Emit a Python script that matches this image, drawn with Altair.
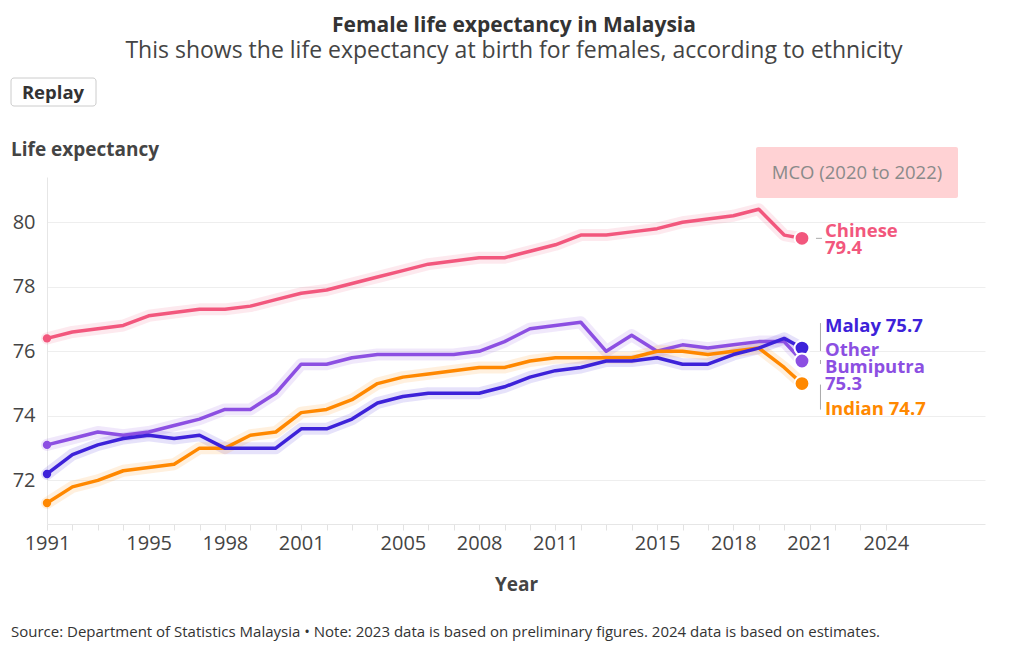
import altair as alt
import pandas as pd

# ---------------- data ----------------
years = list(range(1991, 2021))
end_year = 2020.7  # position of the animated end dots

series = ["Chinese", "Malay", "Other Bumiputra", "Indian"]
colors = ["#F2577D", "#3D22D9", "#8C4FE2", "#FF8800"]

chinese = [76.4, 76.6, 76.7, 76.8, 77.1, 77.2, 77.3, 77.3, 77.4, 77.6,
           77.8, 77.9, 78.1, 78.3, 78.5, 78.7, 78.8, 78.9, 78.9, 79.1,
           79.3, 79.6, 79.6, 79.7, 79.8, 80.0, 80.1, 80.2, 80.4, 79.6]
malay = [72.2, 72.8, 73.1, 73.3, 73.4, 73.3, 73.4, 73.0, 73.0, 73.0,
         73.6, 73.6, 73.9, 74.4, 74.6, 74.7, 74.7, 74.7, 74.9, 75.2,
         75.4, 75.5, 75.7, 75.7, 75.8, 75.6, 75.6, 75.9, 76.1, 76.4]
other_bumiputra = [73.1, 73.3, 73.5, 73.4, 73.5, 73.7, 73.9, 74.2, 74.2, 74.7,
                   75.6, 75.6, 75.8, 75.9, 75.9, 75.9, 75.9, 76.0, 76.3, 76.7,
                   76.8, 76.9, 76.0, 76.5, 76.0, 76.2, 76.1, 76.2, 76.3, 76.3]
indian = [71.3, 71.8, 72.0, 72.3, 72.4, 72.5, 73.0, 73.0, 73.4, 73.5,
          74.1, 74.2, 74.5, 75.0, 75.2, 75.3, 75.4, 75.5, 75.5, 75.7,
          75.8, 75.8, 75.8, 75.8, 76.0, 76.0, 75.9, 76.0, 76.1, 75.5]
end_values = [79.5, 76.1, 75.7, 75.0]

label_lines = [["Chinese", "79.4"], ["Malay 75.7"], ["Other", "Bumiputra", "75.3"], ["Indian 74.7"]]

x_label_years = [1991, 1995, 1998, 2001, 2005, 2008, 2011, 2015, 2018, 2021, 2024]
x_tick_years = list(range(1991, 2025))
y_ticks = [72, 74, 76, 78, 80]

title_text = "Female life expectancy in Malaysia"
subtitle_text = "This shows the life expectancy at birth for females, according to ethnicity"
source_text = ("Source: Department of Statistics Malaysia \u2022 Note: 2023 data is based on "
               "preliminary figures. 2024 data is based on estimates.")

# ---------------- tables ----------------
all_values = [chinese, malay, other_bumiputra, indian]
rows = []
for s, vals, ev in zip(series, all_values, end_values):
    for yr, v in zip(years, vals):
        rows.append({"series": s, "year": yr, "value": v})
    rows.append({"series": s, "year": end_year, "value": ev})
df = pd.DataFrame(rows)
start_df = df[df["year"] == years[0]]
end_df = pd.DataFrame({"series": series, "year": [end_year] * 4, "value": end_values})

FONT = "Open Sans"
x_scale = alt.Scale(domain=[1991, 2027.9], nice=False, zero=False)
y_scale = alt.Scale(domain=[70.65, 81.4], nice=False, zero=False)
color = alt.Color("series:N", scale=alt.Scale(domain=series, range=colors), legend=None)

expr_list = ",".join(str(v) for v in x_label_years)
x_axis = alt.Axis(values=x_tick_years, format="d",
                  labelExpr=f"indexof([{expr_list}], datum.value) >= 0 ? datum.label : ''",
                  grid=False, ticks=True, tickSize=6, tickColor="#e2e2e2",
                  domainColor="#e6e6e6", labelFontSize=20, labelColor="#444444",
                  labelFont=FONT, labelPadding=3, labelFlush=False, labelOverlap=False,
                  labelBound=False, tickMinStep=1,
                  title="Year", titleFontSize=19, titleFontWeight="bold",
                  titleColor="#444444", titleFont=FONT, titlePadding=22)
y_axis = alt.Axis(values=y_ticks, grid=True, gridColor="#eeeeee", ticks=False,
                  domainColor="#e6e6e6", labelFontSize=20, labelColor="#444444",
                  labelFont=FONT, labelPadding=12, labelOverlap=False, title=None)

X = alt.X("year:Q", scale=x_scale, axis=x_axis)
Y = alt.Y("value:Q", scale=y_scale, axis=y_axis)

layers = []
layers.append(alt.Chart(df).mark_line(strokeWidth=12, opacity=0.13, strokeCap="round",
                                      strokeJoin="round").encode(x=X, y=Y, color=color, detail="series:N"))
for s in ["Chinese", "Other Bumiputra", "Indian", "Malay"]:
    layers.append(
        alt.Chart(df[df["series"] == s]).mark_line(strokeWidth=3.5, strokeJoin="round").encode(
            x=X, y=Y, color=color))

layers.append(alt.Chart(start_df).mark_circle(size=70, opacity=1).encode(x=X, y=Y, color=color))

# leader lines (offsets are layout, relative to the end dot)
leader_specs = [
    dict(xOffset=14, x2Offset=20, yOffset=0, y2Offset=0),
    dict(xOffset=18.5, x2Offset=18.5, yOffset=3, y2Offset=-25),
    dict(xOffset=18.5, x2Offset=18.5, yOffset=-1, y2Offset=3),
    dict(xOffset=18.5, x2Offset=18.5, yOffset=1, y2Offset=26),
]
for i, s in enumerate(series):
    sub = end_df[end_df["series"] == s]
    layers.append(alt.Chart(sub).mark_rule(color="#aaaaaa", strokeWidth=1, **leader_specs[i]).encode(
        x=X, x2="year:Q", y=Y, y2="value:Q"))

for s in series:
    layers.append(alt.Chart(end_df[end_df["series"] == s]).mark_circle(
        size=220, opacity=1, stroke="white", strokeWidth=2).encode(x=X, y=Y, color=color))

label_dy = [-7, -22, -11, 25]
for i, s in enumerate(series):
    sub = end_df[end_df["series"] == s].copy()
    sub["label"] = "\n".join(label_lines[i])
    layers.append(alt.Chart(sub).mark_text(
        align="left", baseline="middle", dx=23, dy=label_dy[i], font=FONT, fontWeight="bold",
        fontSize=18.5, lineHeight=17, lineBreak="\n").encode(
        x=X, y=Y, text="label:N", color=color))

# ---------------- annotations (pixel positions relative to plot origin) ----------------
def text_layer(txt, x, y, size, weight="normal", color_="#333333", align="center", font=FONT):
    return alt.Chart(pd.DataFrame({"t": [txt]})).mark_text(
        align=align, baseline="middle", fontSize=size, fontWeight=weight, color=color_, font=font
    ).encode(x=alt.value(x), y=alt.value(y), text="t:N")

# MCO box
layers.append(alt.Chart(pd.DataFrame({"t": ["MCO (2020 to 2022)"]})).mark_rect(
    color="#FFD2D4", cornerRadius=2).encode(
    x=alt.value(709), x2=alt.value(911), y=alt.value(-30), y2=alt.value(21)))
layers.append(text_layer("MCO (2020 to 2022)", 810, -4, 18.5, color_="#8a8a8a"))

# Replay button
layers.append(alt.Chart(pd.DataFrame({"t": ["Replay"]})).mark_rect(
    color="white", stroke="#cccccc", strokeWidth=1, cornerRadius=3).encode(
    x=alt.value(-36), x2=alt.value(49), y=alt.value(-99), y2=alt.value(-71)))
layers.append(text_layer("Replay", 6, -84, 18.5, weight="bold", color_="#333333"))

layers.append(text_layer(title_text, 467, -151, 21, weight="bold", color_="#333333"))
layers.append(text_layer(subtitle_text, 467, -126, 23, color_="#444444"))
layers.append(text_layer("Life expectancy", -36, -27, 19, weight="bold", color_="#444444", align="left"))
layers.append(text_layer(source_text, -36, 455, 15, color_="#333333", align="left"))

chart = alt.layer(*layers).properties(
    width=938, height=347,
    padding={"left": 47, "top": 177, "right": 35, "bottom": 126},
    autosize=alt.AutoSizeParams(type="none"),
    background="white",
).configure_view(stroke=None)

chart.save("out.html", embed_options={"renderer": "svg", "actions": False})
